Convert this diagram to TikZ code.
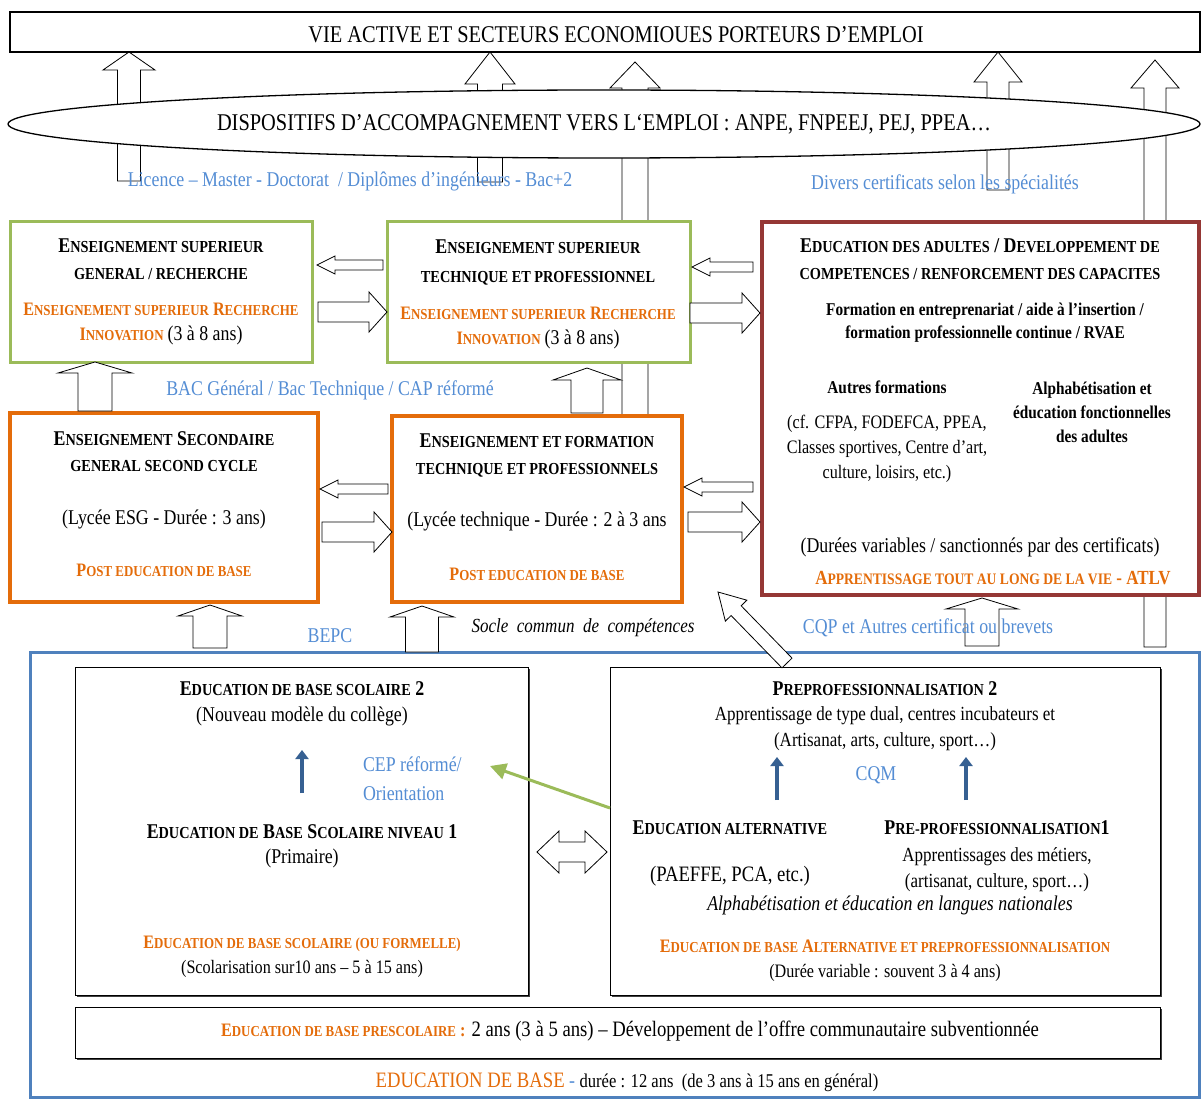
\documentclass[tikz,border=0pt]{standalone}
\usepackage{fontspec}
\setmainfont[FakeStretch=0.85]{Liberation Serif}
\usepackage{tikz}
\usetikzlibrary{arrows.meta,positioning,calc,shapes.geometric,shadows,backgrounds}
\definecolor{esgreen}{RGB}{155,187,89}
\definecolor{esorange}{RGB}{228,108,10}
\definecolor{esred}{RGB}{149,55,53}
\definecolor{esblue}{RGB}{79,129,189}
\definecolor{eslblue}{RGB}{84,141,212}
\definecolor{esdblue}{RGB}{54,96,146}

% small capitals by hand
\newcommand\sck[1]{\scalebox{0.8}{#1}}
% hollow block arrow: [opts]{from}{to}{shaft half width}{head half width}{head length}
\newcommand\blockarrow[6][]{%
  \coordinate (ba-s) at (#2);
  \coordinate (ba-e) at (#3);
  \coordinate (ba-h) at ($(ba-e)!#6!(ba-s)$);
  \draw[hollow,#1] ($(ba-s)!#4!90:(ba-e)$) -- ($(ba-h)!#4!-90:(ba-s)$)
    -- ($(ba-h)!#5!-90:(ba-s)$) -- (ba-e) -- ($(ba-h)!#5!90:(ba-s)$)
    -- ($(ba-h)!#4!90:(ba-s)$) -- ($(ba-s)!#4!-90:(ba-e)$) -- cycle;
}
% same, with a head at both ends
\newcommand\dblockarrow[6][]{%
  \coordinate (ba-s) at (#2);
  \coordinate (ba-e) at (#3);
  \coordinate (ba-h) at ($(ba-e)!#6!(ba-s)$);
  \coordinate (ba-t) at ($(ba-s)!#6!(ba-e)$);
  \draw[hollow,#1] (ba-s) -- ($(ba-t)!#5!90:(ba-e)$) -- ($(ba-t)!#4!90:(ba-e)$)
    -- ($(ba-h)!#4!-90:(ba-s)$) -- ($(ba-h)!#5!-90:(ba-s)$) -- (ba-e)
    -- ($(ba-h)!#5!90:(ba-s)$) -- ($(ba-h)!#4!90:(ba-s)$)
    -- ($(ba-t)!#4!-90:(ba-e)$) -- ($(ba-t)!#5!-90:(ba-e)$) -- cycle;
}

\begin{document}
\begin{tikzpicture}[x=1pt,y=-1pt,
  every node/.style={font=\fontsize{21}{25}\selectfont, inner sep=0pt, outer sep=0pt},
  gbox/.style={draw=esgreen, line width=3pt, fill=white, anchor=north west},
  obox/.style={draw=esorange, line width=3.5pt, fill=white, anchor=north west},
  rbox/.style={draw=esred, line width=4pt, fill=white, anchor=north west},
  ibox/.style={draw, line width=1pt, fill=white, anchor=north west,
               general shadow={fill=black!75, shadow xshift=1.5pt, shadow yshift=-2pt}},
  hd/.style={font=\fontsize{21}{27}\selectfont\bfseries, align=center},
  txt/.style={align=center},
  ora/.style={text=esorange, font=\fontsize{19}{25}\selectfont\bfseries, align=center},
  lbl/.style={text=eslblue},
  hollow/.style={draw, line width=0.8pt, fill=white},
  upar/.style={draw=esdblue, line width=4pt, -{Triangle[length=9pt,width=13pt]}},
  grar/.style={draw=esgreen, line width=3pt, -{Triangle[length=16pt,width=16pt]}}
]
  \useasboundingbox (0,0) rectangle (1201,1099);

  % top: working life and support schemes
  \node[draw, line width=1.3pt, fill=white, anchor=north west,
        minimum width=1190pt, minimum height=40pt] (vie) at (10,12) {};
  \node[font=\fontsize{24}{28}\selectfont] (vie-t) at (616,35)
    {VIE ACTIVE ET SECTEURS ECONOMIOUES PORTEURS D’EMPLOI};
  \node[ellipse, draw, line width=1.3pt, fill=white, minimum width=1192pt,
        minimum height=68pt, font=\fontsize{24}{28}\selectfont] (disp) at (604,124)
    {DISPOSITIFS D’ACCOMPAGNEMENT VERS L‘EMPLOI : ANPE, FNPEEJ, PEJ, PPEA…};
  \node[lbl] (lic) at (350,181) {Licence – Master - Doctorat~ / Diplômes d’ingénieurs - Bac+2};
  \node[lbl] (div) at (945,184) {Divers certificats selon les spécialités};

  % higher education
  \node[gbox, minimum width=302pt, minimum height=140pt] (esgr) at (10,222) {};
  \node[hd] (esgr-h) at (161,259) {E\sck{NSEIGNEMENT SUPERIEUR}\\\sck{GENERAL / RECHERCHE}};
  \node[ora] (esgr-o) at (161,324)
    {E\sck{NSEIGNEMENT SUPERIEUR} R\sck{ECHERCHE}\\I\sck{NNOVATION} \textcolor{black}{\mdseries\fontsize{21}{25}\selectfont(3 à 8 ans)}};
  \node[gbox, minimum width=303pt, minimum height=140pt] (estp) at (387,222) {};
  \node[hd, font=\fontsize{21}{29}\selectfont\bfseries] (estp-h) at (538,262)
    {E\sck{NSEIGNEMENT SUPERIEUR}\\\sck{TECHNIQUE ET PROFESSIONNEL}};
  \node[ora] (estp-o) at (538,328)
    {E\sck{NSEIGNEMENT SUPERIEUR} R\sck{ECHERCHE}\\I\sck{NNOVATION} \textcolor{black}{\mdseries\fontsize{21}{25}\selectfont(3 à 8 ans)}};

  % adult education
  \node[rbox, minimum width=437pt, minimum height=373pt] (adul) at (762,222) {};
  \node[hd] (adul-h) at (980,259)
    {E\sck{DUCATION DES ADULTES} / D\sck{EVELOPPEMENT DE}\\\sck{COMPETENCES / RENFORCEMENT DES CAPACITES}};
  \node[txt, font=\fontsize{18}{23}\selectfont\bfseries] (adul-f) at (985,323)
    {Formation en entreprenariat / aide à l’insertion /\\formation professionnelle continue / RVAE};
  \node[font=\fontsize{18}{23}\selectfont\bfseries] (adul-a) at (887,387) {Autres formations};
  \node[txt, font=\fontsize{19}{25}\selectfont] (adul-c) at (887,449)
    {(cf. CFPA, FODEFCA, PPEA,\\Classes sportives, Centre d’art,\\culture, loisirs, etc.)};
  \node[txt, font=\fontsize{18}{24}\selectfont\bfseries] (adul-l) at (1092,412)
    {Alphabétisation et\\éducation fonctionnelles\\des adultes};
  \node (adul-d) at (980,547) {(Durées variables / sanctionnés par des certificats)};
  \node[ora, font=\fontsize{20}{25}\selectfont\bfseries] (adul-o) at (993,578)
    {A\sck{PPRENTISSAGE TOUT AU LONG DE LA VIE} - ATLV};

  % post basic education
  \node[obox, minimum width=308pt, minimum height=189pt] (secg) at (10,413) {};
  \node[hd, font=\fontsize{21}{26}\selectfont\bfseries] (secg-h) at (164,452)
    {E\sck{NSEIGNEMENT} S\sck{ECONDAIRE}\\\sck{GENERAL SECOND CYCLE}};
  \node (secg-t) at (164,519) {(Lycée ESG - Durée : 3 ans)};
  \node[ora] (secg-o) at (164,570) {P\sck{OST EDUCATION DE BASE}};
  \node[obox, minimum width=290pt, minimum height=186pt] (etfp) at (392,416) {};
  \node[hd] (etfp-h) at (537,455) {E\sck{NSEIGNEMENT ET FORMATION}\\\sck{TECHNIQUE ET PROFESSIONNELS}};
  \node (etfp-t) at (537,521) {(Lycée technique - Durée : 2 à 3 ans};
  \node[ora] (etfp-o) at (537,574) {P\sck{OST EDUCATION DE BASE}};

  % certificates between levels
  \node[lbl] (bac) at (330,390) {BAC Général / Bac Technique / CAP réformé};
  \node[lbl] (bepc) at (330,636) {BEPC};
  \node[font=\fontsize{20}{24}\selectfont\itshape] (socle) at (583,628) {Socle~ commun~ de~ compétences};
  \node[lbl] (cqp) at (928,628) {CQP et Autres certificat ou brevets};

  % basic education
  \node[draw=esblue, line width=3pt, anchor=north west, minimum width=1169pt,
        minimum height=445pt] (ebase) at (30,652) {};
  \node[ibox, minimum width=453pt, minimum height=328pt] (ebs) at (75,667) {};
  \node[hd] (ebs-h2) at (302,689) {E\sck{DUCATION DE BASE SCOLAIRE} 2};
  \node (ebs-s2) at (302,716) {(Nouveau modèle du collège)};
  \node[lbl, align=left, anchor=west, font=\fontsize{21}{29}\selectfont] (cep) at (363,779)
    {CEP réformé/\\Orientation};
  \node[hd] (ebs-h1) at (302,832) {E\sck{DUCATION DE} B\sck{ASE} S\sck{COLAIRE NIVEAU} 1};
  \node (ebs-s1) at (302,858) {(Primaire)};
  \node[ora, font=\fontsize{19}{22}\selectfont\bfseries] (ebs-o) at (302,944)
    {E\sck{DUCATION DE BASE SCOLAIRE (OU FORMELLE)}};
  \node[font=\fontsize{19}{23}\selectfont] (ebs-d) at (302,969) {(Scolarisation sur10 ans – 5 à 15 ans)};

  \node[ibox, minimum width=550pt, minimum height=328pt] (ebap) at (610,667) {};
  \node[hd] (ebap-h2) at (885,689) {P\sck{REPROFESSIONNALISATION} 2};
  \node[txt, font=\fontsize{20}{26}\selectfont] (ebap-s2) at (885,729)
    {Apprentissage de type dual, centres incubateurs et\\(Artisanat, arts, culture, sport…)};
  \node[lbl] (cqm) at (876,775) {CQM};
  \node[hd] (ealt) at (730,828) {E\sck{DUCATION ALTERNATIVE}};
  \node[font=\fontsize{22}{26}\selectfont] (paeffe) at (730,876) {(PAEFFE, PCA, etc.)};
  \node[hd] (pp1) at (997,828) {P\sck{RE-PROFESSIONNALISATION}1};
  \node[txt, font=\fontsize{20}{26}\selectfont] (pp1-t) at (997,870)
    {Apprentissages des métiers,\\(artisanat, culture, sport…)};
  \node[font=\fontsize{21}{25}\selectfont\itshape] (alpha) at (890,905)
    {Alphabétisation et éducation en langues nationales};
  \node[ora, font=\fontsize{19}{22}\selectfont\bfseries] (ebap-o) at (885,946)
    {E\sck{DUCATION DE BASE} A\sck{LTERNATIVE ET PREPROFESSIONNALISATION}};
  \node[font=\fontsize{19}{23}\selectfont] (ebap-d) at (885,973) {(Durée variable : souvent 3 à 4 ans)};

  \node[ibox, minimum width=1085pt, minimum height=51pt] (ebpre) at (75,1007) {};
  \node[font=\fontsize{22}{26}\selectfont] (ebpre-t) at (630,1031)
    {{\color{esorange}\bfseries\fontsize{19}{23}\selectfont E\sck{DUCATION DE BASE PRESCOLAIRE} :} 2 ans (3 à 5 ans) – Développement de l’offre communautaire subventionnée};
  \node (ebase-t) at (627,1082)
    {{\color{esorange}\fontsize{22}{26}\selectfont EDUCATION DE BASE} {\color{eslblue}-} {\fontsize{19.5}{23}\selectfont durée : 12 ans~ (de 3 ans à 15 ans en général)}};

  % arrows behind boxes, ellipse and labels
  \begin{pgfonlayer}{background}
    \coordinate (lic-a) at (129,181);
    \coordinate (lic-b) at (490,182);
    \coordinate (div-a) at (998,190);
    \blockarrow{lic-a}{lic-a |- vie.south}{11.5pt}{26pt}{18pt}
    \blockarrow{lic-b}{lic-b |- vie.south}{12.5pt}{25pt}{32pt}
    \blockarrow{div-a}{div-a |- vie.south}{11pt}{24pt}{30pt}
    \blockarrow{$(etfp.north west)+(243,0)$}{$(vie.south west)+(625,10)$}{13pt}{25pt}{26pt}
    \blockarrow{$(ebase.north west)+(1125,-5)$}{$(vie.south west)+(1145,8)$}{11pt}{24pt}{28pt}
    \blockarrow{$(ebase.north west)+(952,-6)$}{$(adul.south west)+(220,3)$}{17pt}{36pt}{11pt}
  \end{pgfonlayer}

  % arrows between levels
  \blockarrow{$(estp.north west)+(-4,43)$}{$(esgr.north east)+(5,43)$}{5pt}{9pt}{18pt}
  \blockarrow{$(esgr.north east)+(6,90)$}{$(estp.north west)+(0,90)$}{10pt}{20pt}{18pt}
  \blockarrow{$(adul.north west)+(-9,45)$}{$(estp.north east)+(2,45)$}{5pt}{9pt}{18pt}
  \blockarrow{$(estp.north east)+(0,91)$}{$(adul.north west)+(-2,91)$}{10pt}{20pt}{18pt}
  \blockarrow{$(etfp.north west)+(-4,73)$}{$(secg.north east)+(2,76)$}{5pt}{9pt}{18pt}
  \blockarrow{$(secg.north east)+(4,119)$}{$(etfp.north west)+(0,116)$}{10pt}{20pt}{18pt}
  \blockarrow{$(adul.north west)+(-9,265)$}{$(etfp.north east)+(2,71)$}{5pt}{9pt}{18pt}
  \blockarrow{$(etfp.north east)+(6,106)$}{$(adul.north west)+(-2,300)$}{10pt}{20pt}{18pt}
  \blockarrow{$(secg.north west)+(85,-2)$}{$(esgr.south west)+(85,0)$}{17pt}{37pt}{11pt}
  \blockarrow{$(etfp.north west)+(195,-3)$}{$(estp.south west)+(200,6)$}{16pt}{34pt}{12pt}
  \blockarrow{$(ebase.north west)+(180,-4)$}{$(secg.south west)+(200,3)$}{17pt}{32pt}{11pt}
  \blockarrow{$(ebase.north west)+(392,0)$}{$(etfp.south west)+(30,4)$}{16.5pt}{32pt}{11pt}
  \blockarrow{$(ebap.north west)+(177,-4)$}{$(etfp.south east)+(36,-10)$}{7pt}{15pt}{26pt}
  \dblockarrow{$(ebs.north east)+(9,185)$}{$(ebap.north west)+(-3,185)$}{10pt}{21pt}{22pt}

  % arrows inside basic education
  \draw[upar] ($(ebs.north west)+(227,126)$) -- ($(ebs.north west)+(227,83)$);
  \draw[upar] ($(ebap.north west)+(167,133)$) -- ($(ebap.north west)+(167,90)$);
  \draw[upar] ($(ebap.north west)+(356,133)$) -- ($(ebap.north west)+(356,90)$);
  \draw[grar] ($(ebap.north west)+(0,141)$) -- ($(ebs.north west)+(415,99)$);
\end{tikzpicture}
\end{document}
